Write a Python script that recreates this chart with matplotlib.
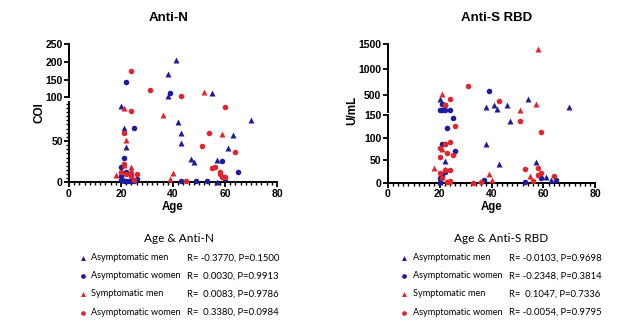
import matplotlib.pyplot as plt
from matplotlib.ticker import MultipleLocator

W, H = 638, 327

# Anti-N (COI) by age
n_am_age = [41, 38, 38, 55, 20, 21, 22, 42, 43, 43, 47, 48, 70, 63, 61, 57, 60, 57, 21]
n_am_val = [205, 166, 103, 113, 92, 66, 43, 73, 60, 48, 28, 24, 75, 57, 42, 27, 5, 0, 3]
n_aw_age = [22, 39, 25, 21, 20, 22, 20, 20, 21, 22, 23, 24, 25, 26, 24, 43, 49, 53, 59, 65]
n_aw_val = [142, 111, 66, 30, 19, 12, 8, 3, 1, 2, 1, 2, 1, 4, 9, 1, 2, 1, 26, 12]
n_sm_age = [52, 21, 36, 22, 59, 18, 24, 24, 40, 39, 21]
n_sm_val = [116, 90, 82, 51, 59, 9, 18, 15, 11, 4, 21]
n_sw_age = [24, 31, 43, 24, 21, 21, 20, 24, 26, 45, 54, 51, 60, 64, 55, 56, 58, 58, 59, 60, 22, 25]
n_sw_val = [175, 120, 103, 86, 60, 22, 13, 8, 10, 2, 60, 44, 91, 37, 17, 18, 13, 10, 7, 6, 10, 3]

# Anti-S RBD (U/mL) by age
s_am_age = [20, 54, 46, 41, 42, 38, 70, 47, 38, 43, 57, 22, 61, 63, 20]
s_am_val = [420, 420, 290, 290, 225, 250, 250, 137, 86, 41, 47, 49, 14, 6, 3]
s_aw_age = [39, 22, 21, 20, 21, 22, 24, 25, 23, 21, 22, 26, 20, 22, 21, 20, 37, 53, 59, 65]
s_aw_val = [580, 290, 310, 190, 190, 190, 190, 145, 121, 86, 86, 72, 10, 25, 15, 3, 6, 3, 12, 6]
s_sm_age = [58, 21, 57, 51, 18, 39, 40, 55, 21, 22, 24]
s_sm_val = [1400, 510, 310, 200, 33, 20, 6, 16, 75, 30, 5]
s_sw_age = [31, 24, 43, 22, 51, 26, 59, 24, 20, 22, 23, 25, 20, 20, 22, 24, 33, 36,
            53, 58, 59, 58, 64, 56, 21, 24, 23]
s_sw_val = [660, 420, 370, 300, 137, 127, 112, 90, 77, 86, 67, 62, 57, 23, 28, 28, 1, 2,
            31, 34, 23, 18, 15, 5, 12, 5, 2]

groups = ['Asymptomatic men', 'Asymptomatic women', 'Symptomatic men', 'Asymptomatic women']
r_n = ['R= -0.3770, P=0.1500', 'R=  0.0030, P=0.9913', 'R=  0.0083, P=0.9786', 'R=  0.3380, P=0.0984']
r_s = ['R= -0.0103, P=0.9698', 'R= -0.2348, P=0.3814', 'R=  0.1047, P=0.7336', 'R= -0.0054, P=0.9795']

blue = '#1c1c9c'
red = '#e0262c'
styles = [('^', blue, 4.2), ('o', blue, 4.0), ('^', red, 4.2), ('o', red, 4.0)]

plt.rcParams['font.family'] = ['Liberation Sans', 'DejaVu Sans']
plt.rcParams['font.weight'] = 'bold'

fig = plt.figure(figsize=(W / 100, H / 100), dpi=100)


def box(x0, x1, y0, y1):
    # pixel box with top-left origin -> figure fraction rect
    return [x0 / W, 1 - y1 / H, (x1 - x0) / W, (y1 - y0) / H]


def style(ax):
    for s in ['top', 'right']:
        ax.spines[s].set_visible(False)
    for s in ['left', 'bottom']:
        ax.spines[s].set_linewidth(1.4)
    ax.tick_params(labelsize=7.5, width=1.3, length=3.5, pad=1)
    ax.tick_params(which='minor', width=1.0, length=2)
    ax.patch.set_alpha(0)


def panel(x0, x1, y_top, y_mid1, y_mid2, y_bot, hi_lim, lo_lim, hi_ticks, lo_ticks, data, lo_minor=None):
    ax_hi = fig.add_axes(box(x0, x1, y_top, y_mid1))
    ax_lo = fig.add_axes(box(x0, x1, y_mid2, y_bot))
    for ax in (ax_hi, ax_lo):
        style(ax)
        ax.set_xlim(0, 80)
    ax_hi.set_ylim(*hi_lim)
    ax_lo.set_ylim(*lo_lim)
    ax_hi.spines['bottom'].set_visible(False)
    ax_hi.set_xticks([])
    ax_hi.set_yticks(hi_ticks)
    ax_lo.set_yticks(lo_ticks)
    ax_lo.set_xticks([0, 20, 40, 60, 80])
    ax_lo.xaxis.set_minor_locator(MultipleLocator(2))
    if lo_minor:
        ax_lo.yaxis.set_minor_locator(MultipleLocator(lo_minor))
    for (ages, vals), (m, c, ms) in zip(data, styles):
        lo = [(a, v) for a, v in zip(ages, vals) if v <= lo_lim[1]]
        hi = [(a, v) for a, v in zip(ages, vals) if v >= hi_lim[0]]
        if lo:
            ax_lo.plot(*zip(*lo), ls='none', marker=m, color=c, ms=ms, mec='none', clip_on=False, zorder=3)
        if hi:
            ax_hi.plot(*zip(*hi), ls='none', marker=m, color=c, ms=ms, mec='none', clip_on=False, zorder=3)
    return ax_hi, ax_lo


panel(69, 277, 44, 97.3, 101.7, 182.3, (100, 250), (0, 97.5),
      [100, 150, 200, 250], [0, 50],
      [(n_am_age, n_am_val), (n_aw_age, n_aw_val), (n_sm_age, n_sm_val), (n_sw_age, n_sw_val)],
      lo_minor=5)
panel(387.7, 595.3, 44, 112.3, 115.3, 183, (150, 1500), (0, 150),
      [500, 1000, 1500], [0, 50, 100, 150],
      [(s_am_age, s_am_val), (s_aw_age, s_aw_val), (s_sm_age, s_sm_val), (s_sw_age, s_sw_val)])

# titles and axis labels
fig.text(168.7 / W, 1 - 18 / H, 'Anti-N', ha='center', va='center', fontsize=9.5)
fig.text(496.7 / W, 1 - 18 / H, 'Anti-S RBD', ha='center', va='center', fontsize=9.5)
fig.text(40 / W, 1 - 113 / H, 'COI', ha='center', va='center', rotation=90, fontsize=8.5)
fig.text(352 / W, 1 - 110 / H, 'U/mL', ha='center', va='center', rotation=90, fontsize=8.5)
fig.text(173 / W, 1 - 207 / H, 'Age', ha='center', va='center', fontsize=8.3)
fig.text(492 / W, 1 - 207 / H, 'Age', ha='center', va='center', fontsize=8.3)

# correlation key under each chart
key = fig.add_axes([0, 0, 1, 1])
key.set_xlim(0, W)
key.set_ylim(H, 0)
key.axis('off')
rows = [258, 276, 294, 312.5]
lf = ['Lato', 'DejaVu Sans']
for cx, mx, tx, rx, title, rtxt in [(178.7, 83, 91, 187, 'Age & Anti-N', r_n),
                                    (501, 403.5, 413, 509, 'Age & Anti-S RBD', r_s)]:
    key.text(cx, 238, title, ha='center', va='center', fontsize=8.5, fontweight='normal', family=lf)
    for y, g, r, (m, c, ms) in zip(rows, groups, rtxt, styles):
        key.plot(mx, y, ls='none', marker=m, color=c, ms=ms * 0.85, mec='none')
        key.text(tx, y, g, ha='left', va='center', fontsize=6.6, fontweight='normal', family=lf)
        key.text(rx, y, r, ha='left', va='center', fontsize=6.8, fontweight='normal', family=lf)

fig.savefig('out.png', dpi=100)
